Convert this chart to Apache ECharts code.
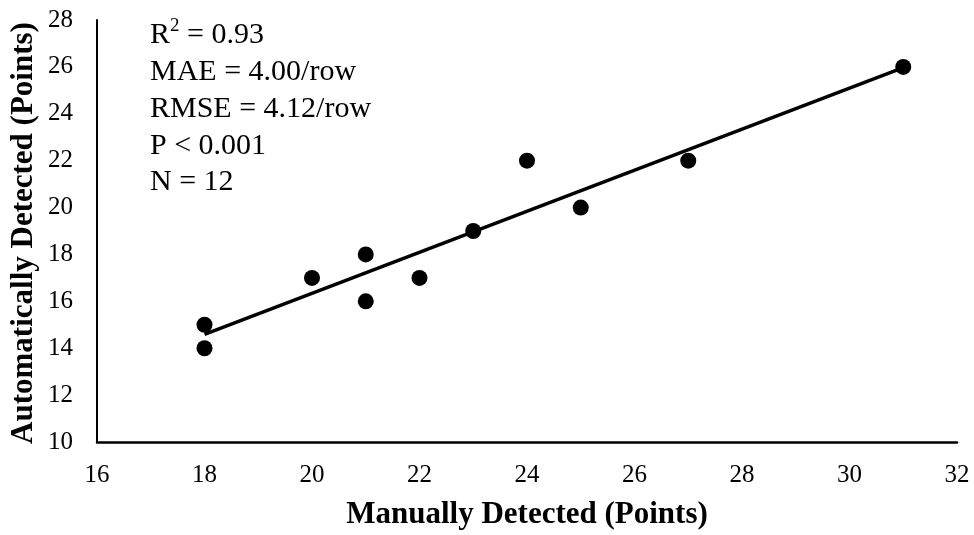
<!DOCTYPE html>
<html><head><meta charset="utf-8">
<script src="https://cdn.jsdelivr.net/npm/echarts@6/dist/echarts.min.js"></script>
<style>html,body{margin:0;padding:0;background:#fff}#c{width:974px;height:535px}</style>
</head><body><div id="c"></div>
<script>
var manual = [18, 18, 20, 21, 21, 22, 23, 24, 25, 27, 31];
var automatic = [15, 14, 17, 18, 16, 17, 19, 22, 20, 22, 26];
var statsLines = ['R{sup|2} = 0.93', 'MAE = 4.00/row', 'RMSE = 4.12/row', 'P < 0.001', 'N = 12'];
var xTitle = 'Manually Detected (Points)';
var yTitle = 'Automatically Detected (Points)';

var pts = manual.map(function (x, i) { return [x, automatic[i]]; });
var n = manual.length, mx = 0, my = 0;
manual.forEach(function (v) { mx += v / n; });
automatic.forEach(function (v) { my += v / n; });
var sxx = 0, sxy = 0;
for (var i = 0; i < n; i++) { sxx += (manual[i] - mx) * (manual[i] - mx); sxy += (manual[i] - mx) * (automatic[i] - my); }
var slope = sxy / sxx, icpt = my - slope * mx;
var xmin = Math.min.apply(null, manual), xmax = Math.max.apply(null, manual);
var trend = [[xmin, icpt + slope * xmin], [xmax, icpt + slope * xmax]];

var font = "'Liberation Serif', 'Times New Roman', serif";
var chart = echarts.init(document.getElementById('c'));
chart.setOption({
  animation: false,
  grid: { left: 97, right: 17, top: 20, bottom: 89 },
  xAxis: {
    type: 'value', min: 16, max: 32, interval: 2,
    axisLine: { lineStyle: { color: '#000', width: 2.5 } },
    axisTick: { show: false }, splitLine: { show: false },
    axisLabel: { color: '#000', fontFamily: font, fontSize: 25, margin: 21 },
    name: xTitle, nameLocation: 'middle', nameGap: 57,
    nameTextStyle: { color: '#000', fontFamily: font, fontSize: 31, fontWeight: 'bold' }
  },
  yAxis: {
    type: 'value', min: 10, max: 28, interval: 2,
    axisLine: { show: true, lineStyle: { color: '#000', width: 2 } },
    axisTick: { show: false }, splitLine: { show: false },
    axisLabel: { color: '#000', fontFamily: font, fontSize: 25, margin: 24 }
  },
  graphic: [
    {
      type: 'text', left: 150, top: 17,
      style: {
        text: statsLines.join('\n'), fill: '#000', font: '30px ' + font, lineHeight: 36.75,
        rich: { sup: { fontSize: 19, lineHeight: 19, verticalAlign: 'top', fontFamily: font, fill: '#000' } }
      }
    },
    {
      type: 'text', x: 24, y: 233, rotation: Math.PI / 2,
      style: { text: yTitle, fill: '#000', font: 'bold 31px ' + font, align: 'center', verticalAlign: 'middle' }
    }
  ],
  series: [
    { type: 'line', data: trend, symbol: 'none', lineStyle: { color: '#000', width: 3.5 }, z: 2 },
    { type: 'scatter', data: pts, symbolSize: 16, itemStyle: { color: '#000', opacity: 1 }, z: 3 }
  ]
});
</script></body></html>
